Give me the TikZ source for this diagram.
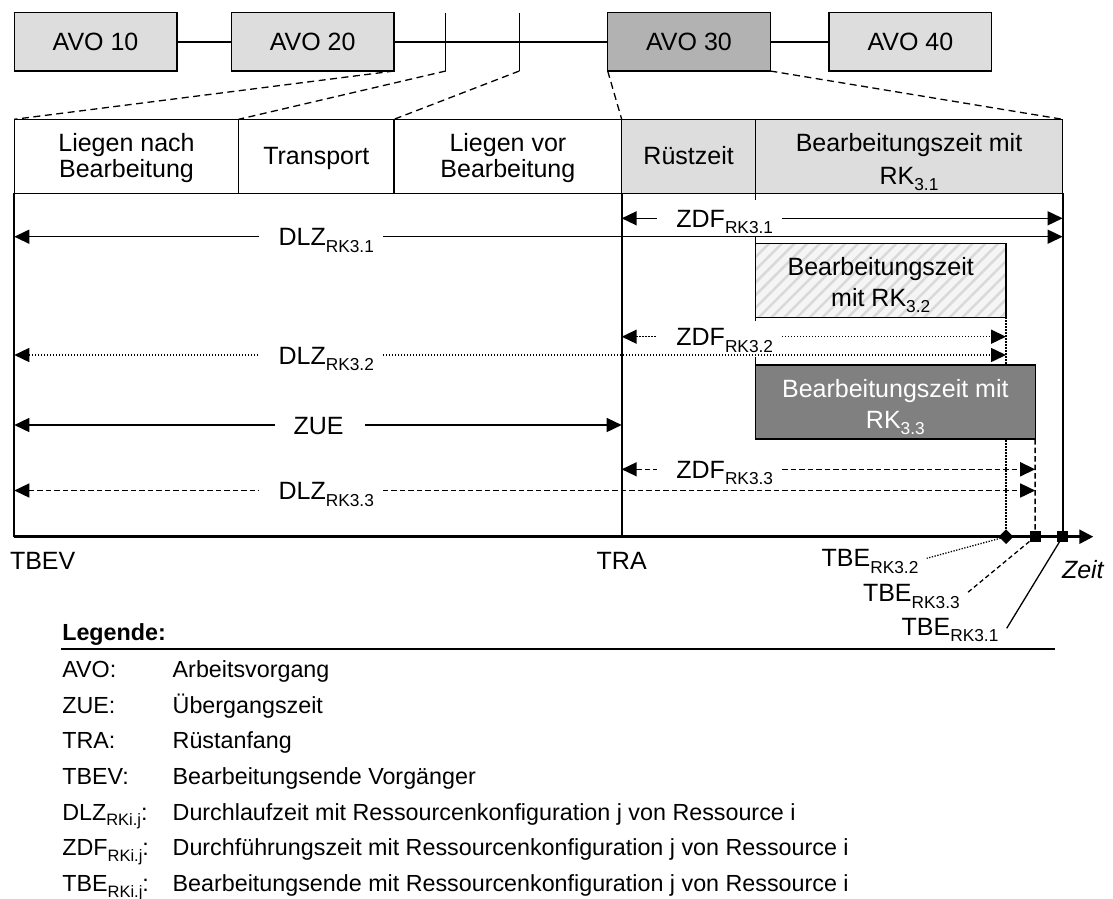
\documentclass[tikz,border=0pt]{standalone}
\usepackage{fontspec}
\setmainfont{Liberation Sans}
\usetikzlibrary{arrows.meta,patterns.meta,calc}

\definecolor{lightg}{RGB}{221,221,221}
\definecolor{midg}{RGB}{178,178,178}
\definecolor{darkg}{RGB}{128,128,128}

% lowered index for the main labels and for the legend
\newcommand\lowix[1]{\raisebox{-6.6pt}{\fontsize{17.3}{17.3}\selectfont #1}}
\newcommand\legix[1]{\raisebox{-5.5pt}{\fontsize{16.5}{16.5}\selectfont #1}}

\begin{document}
\begin{tikzpicture}[x=1pt,y=-1pt,
  every node/.style={inner sep=0pt,outer sep=0pt},
  lab/.style={font=\fontsize{25}{30}\selectfont,anchor=base west},
  ctr/.style={font=\fontsize{25}{30}\selectfont,anchor=base},
  leg/.style={font=\fontsize{23.3}{28}\selectfont,anchor=base west},
  avo/.style={draw,line width=1.4pt,minimum width=162.6pt,minimum height=58.3pt,
              font=\fontsize{25}{30}\selectfont},
  cell/.style={draw,line width=1.4pt,minimum height=74pt,anchor=north west},
  ln/.style={line width=1.4pt},
  leader/.style={line width=1.3pt,dash pattern=on 7pt off 4.5pt},
  frm/.style={line width=1.8pt},
  timeax/.style={line width=2.6pt,-{Triangle[length=14pt,width=14pt]}},
  sol/.style={line width=1.5pt},
  dotln/.style={line width=1.5pt,dash pattern=on 1.4pt off 1.6pt},
  dsh/.style={line width=1.5pt,dash pattern=on 5.5pt off 3pt},
  lar/.style={{Triangle[length=15pt,width=14pt]}-},
  rar/.style={-{Triangle[length=15pt,width=14pt]}},
  endmark/.style={draw,fill,line width=0.8pt,minimum size=10pt}
]
\useasboundingbox (0,0) rectangle (1113,898);

% ---------- chain of operations ----------
\node[avo,fill=lightg] (avo10) at (95.55,41.85) {AVO 10};
\node[avo,fill=lightg] (avo20) at (312.7,41.85) {AVO 20};
\node[avo,fill=midg]   (avo30) at (689,41.85)   {AVO 30};
\node[avo,fill=lightg] (avo40) at (910.35,41.85) {AVO 40};
\coordinate (t1a) at (445.7,12.7); \coordinate (t1b) at (445.7,71);
\coordinate (t2a) at (519.3,12.7); \coordinate (t2b) at (519.3,71);
\draw[ln] (avo10.east) -- (avo20.west);
\draw[ln] (avo20.east) -- (avo30.west);
\draw[ln] (avo30.east) -- (avo40.west);
\draw[ln] (t1a) -- (t1b);
\draw[ln] (t2a) -- (t2b);

% ---------- header row ----------
\node[cell,minimum width=224.3pt] (c1) at (14.3,119.3) {};
\node[cell,minimum width=155.4pt] (c2) at (238.6,119.3) {};
\node[cell,minimum width=227.7pt] (c3) at (394,119.3) {};
\node[cell,minimum width=133.8pt,fill=lightg] (c4) at (621.7,119.3) {};
\node[cell,minimum width=307.1pt,fill=lightg] (c5) at (755.5,119.3) {};
\node[ctr] (c1a) at (126.5,151) {Liegen nach};
\node[ctr] (c1b) at (126.5,177) {Bearbeitung};
\node[ctr] (c2a) at (316.3,164.5) {Transport};
\node[ctr] (c3a) at (507.9,151) {Liegen vor};
\node[ctr] (c3b) at (507.9,177) {Bearbeitung};
\node[ctr] (c4a) at (688.6,164.5) {Rüstzeit};
\node[ctr] (c5a) at (909,151) {Bearbeitungszeit mit};
\node[ctr] (c5b) at (909,184) {RK\lowix{3.1}};

% zoom leaders
\draw[leader] (avo20.south east) -- (c1.north west);
\draw[leader] (t1b) -- (c2.north west);
\draw[leader] (t2b) -- (c3.north west);
\draw[leader] (avo30.south west) -- (c4.north west);
\draw[leader] (avo30.south east) -- (c5.north east);

% ---------- frame and time axis ----------
\coordinate (o)   at (14.3,536.7);
\coordinate (tra) at (621.7,536.7);
\coordinate (fin) at (1062.6,536.7);
\coordinate (tip) at (1093.3,536.7);
\draw[frm] (c1.south west) -- (o);
\draw[frm] (c4.south west) -- (tra);
\draw[frm] (c5.south east) -- (fin);

% ---------- processing time bars ----------
\node[cell,minimum width=250.5pt,preaction={fill=gray!8},
      pattern={Lines[angle=45,distance=9pt,line width=2.5pt]},pattern color=gray!30]
      (rk2) at (755.5,243.3) {};
\node[ctr] (rk2a) at (880.75,275.8) {Bearbeitungszeit};
\node[ctr] (rk2b) at (880.75,306.3) {mit RK\lowix{3.2}};

% end of machining with RK 3.2 (runs behind the RK 3.3 bar)
\coordinate (e2) at (1006,536.7);
\coordinate (e3) at (1035.2,536.7);
\draw[dotln] (rk2.south east) -- (e2);

\node[cell,minimum width=279.7pt,fill=darkg] (rk3) at (755.5,365) {};
\node[ctr,text=white] (rk3a) at (895.35,397.5) {Bearbeitungszeit mit};
\node[ctr,text=white] (rk3b) at (895.35,428) {RK\lowix{3.3}};
\draw[dsh] (rk3.south east) -- (e3);

% start of machining, visible between the labels
\draw[ln] (c5.south west) -- ++(0,7);
\draw[ln] (rk2.north west) -- ++(0,-6.3);
\draw[ln] (rk2.south west) -- ++(0,3.5);
\draw[ln] (rk3.north west) -- ++(0,-8.5);

% ---------- dimension arrows ----------
% ZDF RK3.1
\coordinate (z1l) at (621.7,218.3); \coordinate (z1r) at (1062.6,218.3);
\node[lab] (zdf1) at (676.4,227.3) {ZDF\lowix{RK3.1}};
\draw[sol,lar] (z1l) -- ($(zdf1.west|-z1l)+(-19.5,0)$);
\draw[sol,rar] ($(zdf1.east|-z1l)+(9,0)$) -- (z1r);
% DLZ RK3.1
\coordinate (d1l) at (14.3,236.7); \coordinate (d1r) at (1062.6,236.7);
\node[lab] (dlz1) at (278.6,245.7) {DLZ\lowix{RK3.1}};
\draw[sol,lar] (d1l) -- ($(dlz1.west|-d1l)+(-19.5,0)$);
\draw[sol,rar] ($(dlz1.east|-d1l)+(9,0)$) -- (d1r);
% ZDF RK3.2
\coordinate (z2l) at (621.7,336.7); \coordinate (z2r) at (1006,336.7);
\node[lab] (zdf2) at (676.4,345.7) {ZDF\lowix{RK3.2}};
\draw[dotln,lar] (z2l) -- ($(zdf2.west|-z2l)+(-19.5,0)$);
\draw[dotln,rar] ($(zdf2.east|-z2l)+(9,0)$) -- (z2r);
% DLZ RK3.2
\coordinate (d2l) at (14.3,355); \coordinate (d2r) at (1006,355);
\node[lab] (dlz2) at (278.6,364) {DLZ\lowix{RK3.2}};
\draw[dotln,lar] (d2l) -- ($(dlz2.west|-d2l)+(-19.5,0)$);
\draw[dotln,rar] ($(dlz2.east|-d2l)+(9,0)$) -- (d2r);
% ZUE
\coordinate (ul) at (14.3,425); \coordinate (ur) at (621.7,425);
\node[lab] (zue) at (293.6,434) {ZUE};
\draw[sol,lar] (ul) -- ($(zue.west|-ul)+(-18.6,0)$);
\draw[sol,rar] ($(zue.east|-ul)+(21.4,0)$) -- (ur);
% ZDF RK3.3
\coordinate (z3l) at (621.7,469.3); \coordinate (z3r) at (1035.2,469.3);
\node[lab] (zdf3) at (676.4,478.3) {ZDF\lowix{RK3.3}};
\draw[dsh,lar] (z3l) -- ($(zdf3.west|-z3l)+(-19.5,0)$);
\draw[dsh,rar] ($(zdf3.east|-z3l)+(9,0)$) -- (z3r);
% DLZ RK3.3
\coordinate (d3l) at (14.3,490.5); \coordinate (d3r) at (1035.2,490.5);
\node[lab] (dlz3) at (278.6,499.5) {DLZ\lowix{RK3.3}};
\draw[dsh,lar] (d3l) -- ($(dlz3.west|-d3l)+(-19.5,0)$);
\draw[dsh,rar] ($(dlz3.east|-d3l)+(9,0)$) -- (d3r);

% ---------- time axis with end points ----------
\draw[timeax] (o) -- (tip);
\coordinate (q2) at (926.7,558.3);
\coordinate (q3) at (966.7,593.3);
\coordinate (q1) at (1006.7,628.3);
\draw[line width=1.3pt,dash pattern=on 1.3pt off 1.5pt] (e2) -- (q2);
\draw[line width=1.3pt,dash pattern=on 4.5pt off 3pt] (e3) -- (q3);
\draw[line width=1.3pt] (fin) -- (q1);
\node[endmark,rotate=45,minimum size=9.5pt] (mk2) at (e2) {};
\node[endmark] (mk3) at (e3) {};
\node[endmark] (mk1) at (fin) {};

\node[lab] (tbev) at (10,569.3) {TBEV};
\node[lab] (tral) at (596.7,569.3) {TRA};
\node[lab] (tbe2) at (821.7,566.7) {TBE\lowix{RK3.2}};
\node[lab] (tbe3) at (863,601.7) {TBE\lowix{RK3.3}};
\node[lab] (tbe1) at (901.7,635) {TBE\lowix{RK3.1}};
\node[lab,font=\fontsize{25}{30}\selectfont\itshape] (zeit) at (1062,578) {Zeit};

% ---------- legend ----------
\node[leg,font=\fontsize{23.3}{28}\selectfont\bfseries] (legt) at (62.3,640) {Legende:};
\coordinate (la) at (61,648.7); \coordinate (lb) at (1055,648.7);
\draw[line width=2pt] (la) -- (lb);
\node[leg] (k1) at (62.3,677.3) {AVO:};
\node[leg] (v1) at (172.7,677.3) {Arbeitsvorgang};
\node[leg] (k2) at (62.3,713) {ZUE:};
\node[leg] (v2) at (172.7,713) {Übergangszeit};
\node[leg] (k3) at (62.3,748.7) {TRA:};
\node[leg] (v3) at (172.7,748.7) {Rüstanfang};
\node[leg] (k4) at (62.3,784.4) {TBEV:};
\node[leg] (v4) at (172.7,784.4) {Bearbeitungsende Vorgänger};
\node[leg] (k5) at (62.3,820) {DLZ\legix{RKi.j}:};
\node[leg] (v5) at (172.7,820) {Durchlaufzeit mit Ressourcenkonfiguration j von Ressource i};
\node[leg] (k6) at (62.3,855.8) {ZDF\legix{RKi.j}:};
\node[leg] (v6) at (172.7,855.8) {Durchführungszeit mit Ressourcenkonfiguration j von Ressource i};
\node[leg] (k7) at (62.3,891.5) {TBE\legix{RKi.j}:};
\node[leg] (v7) at (172.7,891.5) {Bearbeitungsende mit Ressourcenkonfiguration j von Ressource i};
\end{tikzpicture}
\end{document}
